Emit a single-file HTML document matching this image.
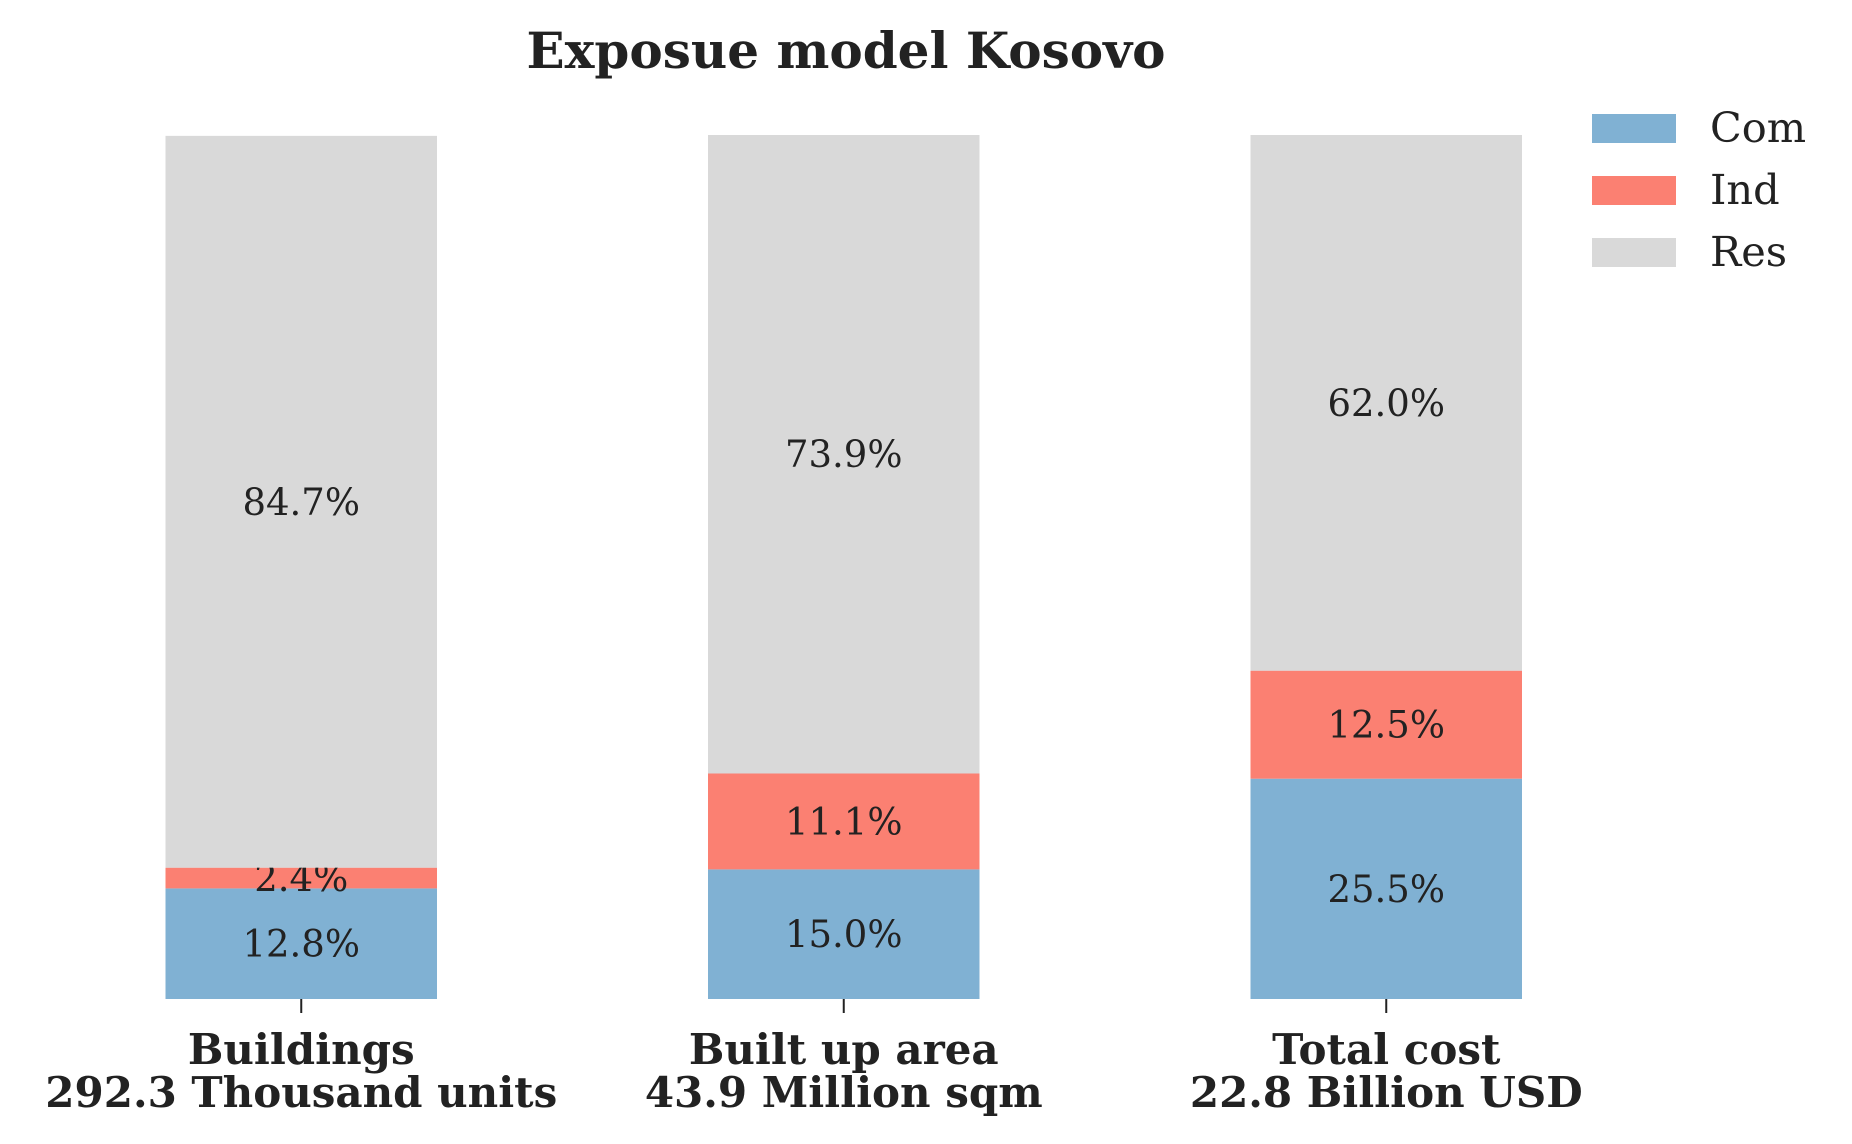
<!DOCTYPE html>
<html><head><meta charset="utf-8"><style>
html,body{margin:0;padding:0;background:#fff;}
svg{display:block;font-family:"DejaVu Serif","Liberation Serif",serif;}
</style></head><body>
<svg id="chart" width="1852" height="1144" viewBox="0 0 1852 1144">
<text x="846" y="68" text-anchor="middle" font-size="50" font-weight="bold" fill="#222">Exposue model Kosovo</text>
<g id="bars"></g>
<g>
<rect x="1592" y="114" width="84" height="29" fill="#80b1d3"/>
<text x="1710" y="142" font-size="41.5" fill="#222">Com</text>
<rect x="1592" y="176" width="84" height="29" fill="#fb8072"/>
<text x="1710" y="204" font-size="41.5" fill="#222">Ind</text>
<rect x="1592" y="238" width="84" height="29" fill="#d9d9d9"/>
<text x="1710" y="266" font-size="41.5" fill="#222">Res</text>
</g>
</svg>
<script>
const categories = ["Buildings", "Built up area", "Total cost"];
const subtitles = ["292.3 Thousand units", "43.9 Million sqm", "22.8 Billion USD"];
const com = [12.8, 15.0, 25.5];
const ind = [2.4, 11.1, 12.5];
const res = [84.7, 73.9, 62.0];

const NS = "http://www.w3.org/2000/svg";
const g = document.getElementById("bars");
const x0 = 165.5, step = 542.5, bw = 271.5, yBase = 999, yH = 864;
function xPos(i){ return x0 + i*step; }
function yPos(v){ return yBase - v/100*yH; }
function mk(tag, attrs){ const e=document.createElementNS(NS,tag); for(const k in attrs) e.setAttribute(k,attrs[k]); g.appendChild(e); return e; }
const series = [["com", com, "#80b1d3"], ["ind", ind, "#fb8072"], ["res", res, "#d9d9d9"]];
categories.forEach((c,i)=>{
  let cum = 0;
  series.forEach(([n, arr, col])=>{
    const v = arr[i];
    const r = mk("rect",{x:xPos(i), y:yPos(cum+v), width:bw, height:yPos(cum)-yPos(cum+v), fill:col});
    
    
    const t = mk("text",{x:xPos(i)+bw/2, y:yPos(cum+v/2)+13, "text-anchor":"middle", "font-size":37, fill:"#222"});
    t.textContent = v.toFixed(1) + "%";
    
    
    cum += v;
  });
  const tk = mk("line",{x1:xPos(i)+bw/2, x2:xPos(i)+bw/2, y1:yBase, y2:yBase+14, stroke:"#222", "stroke-width":2});
  
  
  const l1 = mk("text",{x:xPos(i)+bw/2, y:1064, "text-anchor":"middle", "font-size":42, "font-weight":"bold", fill:"#222"});
  l1.textContent = c;
  
  
  const l2 = mk("text",{x:xPos(i)+bw/2, y:1107, "text-anchor":"middle", "font-size":42, "font-weight":"bold", fill:"#222"});
  l2.textContent = subtitles[i];
  
  
});
</script>
</body></html>
